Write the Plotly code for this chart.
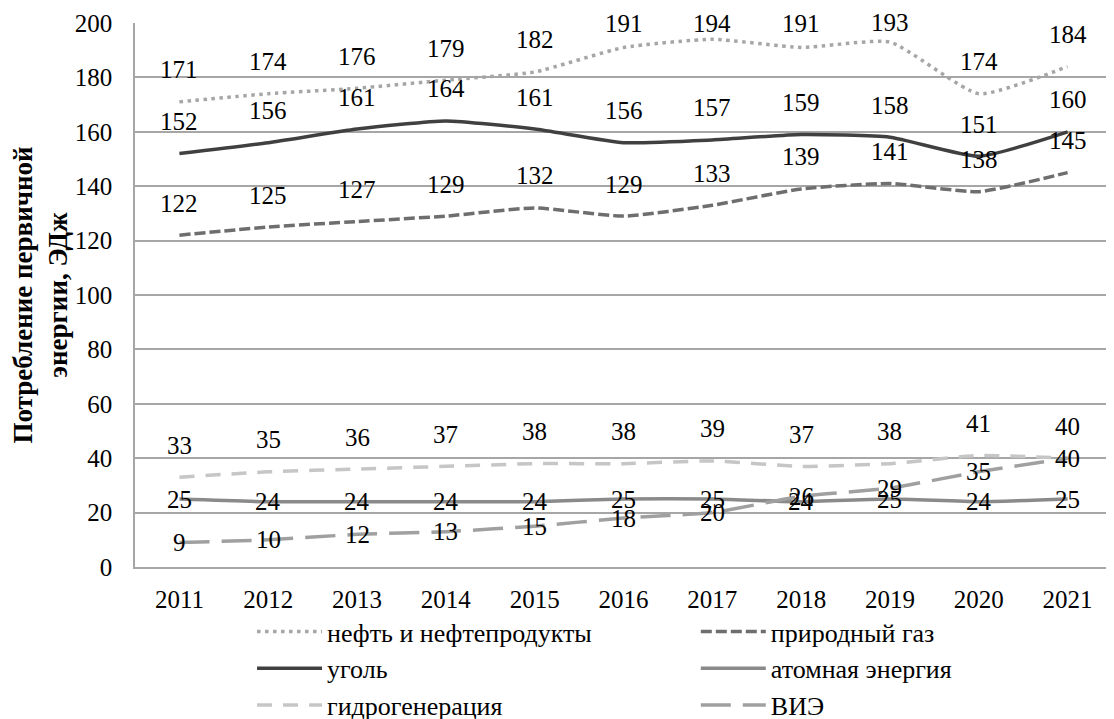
import plotly.graph_objects as go

years = ["2011", "2012", "2013", "2014", "2015", "2016", "2017", "2018", "2019", "2020", "2021"]
oil = [171, 174, 176, 179, 182, 191, 194, 191, 193, 174, 184]
coal = [152, 156, 161, 164, 161, 156, 157, 159, 158, 151, 160]
gas = [122, 125, 127, 129, 132, 129, 133, 139, 141, 138, 145]
hydro = [33, 35, 36, 37, 38, 38, 39, 37, 38, 41, 40]
nuclear = [25, 24, 24, 24, 24, 25, 25, 24, 25, 24, 25]
renew = [9, 10, 12, 13, 15, 18, 20, 26, 29, 35, 40]

names = ["нефть и нефтепродукты", "природный газ", "уголь", "атомная энергия", "гидрогенерация", "ВИЭ"]
series = [oil, gas, coal, nuclear, hydro, renew]
colors = ["#a6a6a6", "#6e6e6e", "#404040", "#8a8a8a", "#c6c6c6", "#a0a0a0"]
dashes = ["3.5px,4.5px", "11px,4px", "solid", "solid", "15px,11px", "30px,12px"]
legend_ids = ["legend", "legend2", "legend", "legend2", "legend", "legend2"]
label_shift = [32, 32, 32, 0, 32, 0]

FONT = "Liberation Serif"
W, H = 1106, 711
T, B = 15, 152
PX_PER_UNIT = (H - T - B) / 200.0
TOP_CLAMP = 0  # labels kept inside the chart area

fig = go.Figure()
for name, vals, col, dsh, lg in zip(names, series, colors, dashes, legend_ids):
    fig.add_trace(go.Scatter(
        x=years, y=vals, name=name, mode="lines", legend=lg,
        line=dict(color=col, width=3.5, dash=dsh, shape="spline", smoothing=0.5),
    ))

annotations = []
for vals, sh in zip(series, label_shift):
    for i, yv in enumerate(vals):
        room = (200 - yv) * PX_PER_UNIT - TOP_CLAMP
        s = min(sh, room) if sh > 0 else sh
        annotations.append(dict(
            x=i, y=yv, xref="x", yref="y", text=str(yv), showarrow=False, yshift=s,
            font=dict(family=FONT, size=25, color="#000000"),
            xanchor="center", yanchor="middle",
        ))

legend_common = dict(
    orientation="v", xanchor="left", xref="paper",
    yref="container", y=1 - 600 / H, yanchor="top",
    font=dict(family=FONT, size=26, color="#000000"),
    itemwidth=65, tracegroupgap=0, bgcolor="rgba(0,0,0,0)",
)

fig.update_layout(
    width=W, height=H,
    margin=dict(l=127, r=2, t=T, b=B),
    paper_bgcolor="white", plot_bgcolor="white",
    font=dict(family=FONT, size=25, color="#000000"),
    annotations=annotations,
    showlegend=True,
    legend=dict(x=0.1198, **legend_common),
    legend2=dict(x=0.574, **legend_common),
    xaxis=dict(
        type="category", range=[-0.5, 10.5], showgrid=False,
        showline=True, linecolor="#a6a6a6", linewidth=1.5,
        ticks="", tickfont=dict(family=FONT, size=25), ticklabelstandoff=9,
        fixedrange=True, automargin=False,
    ),
    yaxis=dict(
        range=[0, 200], dtick=20, showgrid=True, gridcolor="#a6a6a6", gridwidth=1.5,
        showline=True, linecolor="#a6a6a6", linewidth=1.5, zeroline=False,
        ticks="", tickfont=dict(family=FONT, size=25), ticklabelstandoff=16,
        title=dict(text="<b>Потребление первичной<br>энергии, ЭДж</b>",
                   font=dict(family=FONT, size=27), standoff=2),
    ),
)

fig.write_html("out.html")
